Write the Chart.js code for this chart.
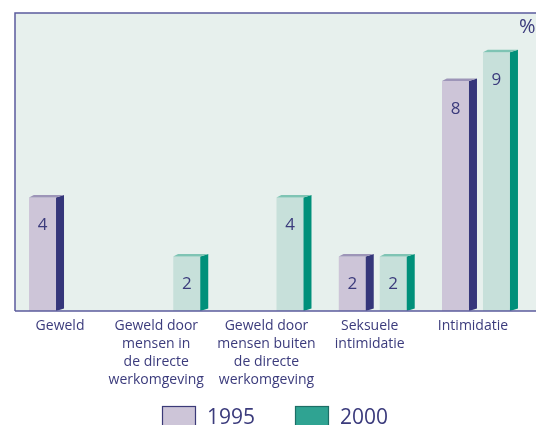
<!DOCTYPE html>
<html><head><meta charset="utf-8">
<style>html,body{margin:0;padding:0;background:#fff;overflow:hidden;width:536px;height:425px}canvas{display:block}</style>
<script src="https://cdn.jsdelivr.net/npm/chart.js@4"></script>
</head><body>
<canvas id="c" width="536" height="440"></canvas>
<script>
const categories = [["Geweld"],["Geweld door","mensen in","de directe","werkomgeving"],["Geweld door","mensen buiten","de directe","werkomgeving"],["Seksuele","intimidatie"],["Intimidatie"]];
const values1995 = [3.95, null, null, 1.9, 8.0];
const values2000 = [null, 1.9, 3.95, 1.9, 9.0];
const valueLabels1995 = ["4", null, null, "2", "8"];
const valueLabels2000 = [null, "2", "4", "2", "9"];
const seriesNames = ["1995", "2000"];
const unitLabel = "%";

const FONT = "'Open Sans', 'Noto Sans', sans-serif";
const TXT = '#3b3b7c';
const FRAME = '#5b5b9d';
const styles = [
  {front:'#cdc5d8', side:'#35367a', cap:'#9d95b8', legFill:'#cdc5d8', legStroke:'#3b3a78'},
  {front:'#c7e0da', side:'#00907a', cap:'#7fc4b4', legFill:'#2fa392', legStroke:'#1d6e66'}
];
const valueLabels = [valueLabels1995, valueLabels2000];

const deco = {
  id: 'deco',
  beforeDraw(chart) {
    const {ctx, chartArea: a} = chart;
    const L = 15;
    ctx.save();
    ctx.fillStyle = '#e7f0ed';
    ctx.fillRect(L, a.top, chart.width - L, a.bottom - a.top);
    ctx.strokeStyle = FRAME; ctx.lineWidth = 1.5;
    ctx.beginPath(); ctx.moveTo(L, a.bottom); ctx.lineTo(L, a.top); ctx.lineTo(chart.width, a.top); ctx.stroke();
    ctx.restore();
  },
  afterDatasetsDraw(chart) {
    const {ctx, chartArea: a} = chart;
    ctx.save();
    const DX = 8, DY = 2.5;
    chart.data.datasets.forEach((ds, di) => {
      const meta = chart.getDatasetMeta(di);
      const st = styles[di];
      meta.data.forEach((bar, i) => {
        if (ds.data[i] == null) return;
        const p = bar.getProps(['x','y','base','width'], true);
        const l = p.x - p.width/2, r = p.x + p.width/2, t = p.y, b = p.base;
        ctx.fillStyle = st.side;
        ctx.beginPath(); ctx.moveTo(r, t); ctx.lineTo(r+DX, t-DY); ctx.lineTo(r+DX, b-DY); ctx.lineTo(r, b); ctx.closePath(); ctx.fill();
        ctx.fillStyle = st.cap;
        ctx.beginPath(); ctx.moveTo(l, t); ctx.lineTo(l+DX*0.6, t-DY); ctx.lineTo(r+DX, t-DY); ctx.lineTo(r, t); ctx.closePath(); ctx.fill();
        const lab = valueLabels[di][i];
        if (lab) {
          ctx.fillStyle = TXT; ctx.font = '17px ' + FONT; ctx.textAlign = 'center'; ctx.textBaseline = 'middle';
          ctx.fillText(lab, p.x, t + 28);
        }
      });
    });
    ctx.strokeStyle = FRAME; ctx.lineWidth = 1.5;
    ctx.beginPath(); ctx.moveTo(15, a.bottom); ctx.lineTo(chart.width, a.bottom); ctx.stroke();
    ctx.fillStyle = TXT; ctx.font = '20px ' + FONT; ctx.textAlign = 'left'; ctx.textBaseline = 'alphabetic';
    ctx.fillText(unitLabel, 519, 33);
    // legend
    const items = [{bx:162, tx:207}, {bx:295, tx:340}];
    chart.data.datasets.forEach((ds, di) => {
      const it = items[di], st = styles[di];
      ctx.fillStyle = st.legFill; ctx.fillRect(it.bx, 406, 33, 24);
      ctx.strokeStyle = st.legStroke; ctx.lineWidth = 1.2; ctx.strokeRect(it.bx+0.5, 406.5, 33, 24);
      ctx.fillStyle = TXT; ctx.font = '21px ' + FONT; ctx.fillText(ds.label, it.tx, 424);
    });
    ctx.restore();
  }
};

new Chart(document.getElementById('c'), {
  type: 'bar',
  data: {
    labels: categories,
    datasets: [
      {label: seriesNames[0], data: values1995, backgroundColor: styles[0].front},
      {label: seriesNames[1], data: values2000, backgroundColor: styles[1].front}
    ]
  },
  options: {
    responsive: false, devicePixelRatio: 1, animation: false,
    categoryPercentage: 0.794, barPercentage: 0.6585,
    layout: {padding: {left: 11.4, right: 8.4, top: 13, bottom: 0}},
    plugins: {legend: {display: false}, tooltip: {enabled: false}},
    scales: {
      x: {
        grid: {display: false}, border: {display: false},
        ticks: {color: TXT, autoSkip: false, maxRotation: 0, padding: -2, labelOffset: -3,
          font: {family: FONT, size: 14, lineHeight: 1.286},
          callback(value, index) {
            const lab = this.getLabelForValue(value);
            const lines = Array.isArray(lab) ? lab : [lab];
            // second category label sits left of its bars in the original, to clear its neighbour
            return index === 1 ? lines.map(s => s + '\u2002\u2002') : lines;
          }},
        afterFit(s) { s.height = 129; }
      },
      y: {display: false, min: 0, max: 10.37}
    }
  },
  plugins: [deco]
});
</script>
</body></html>
